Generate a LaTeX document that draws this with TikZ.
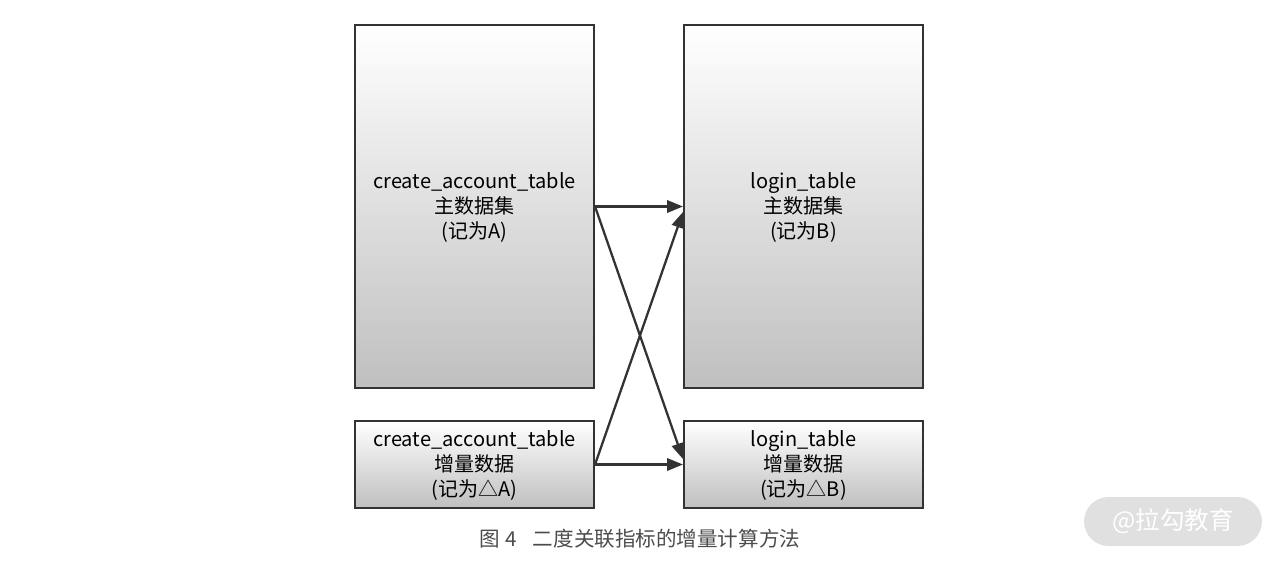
\documentclass[tikz,border=0pt]{standalone}
\usepackage{fontspec}
\newfontfamily\cjk{Noto Sans CJK SC}
\usetikzlibrary{arrows.meta,positioning}

\tikzset{
    tablebox/.style={draw=black!80, line width=1.2pt, top color=white, bottom color=black!25,
        align=center, inner sep=0pt, minimum width=4.78cm,
        font=\cjk\fontsize{11.4}{14.2}\selectfont, text=black},
    link/.style={draw=black!80, line width=1.3pt, -{Triangle[length=9pt,width=7pt]}},
}

\begin{document}
\begin{tikzpicture}[x=0.02cm, y=-0.02cm]
        \useasboundingbox (0, 0) rectangle (1280, 564);

        % main data sets
        \node [tablebox, minimum height=7.26cm] (A) at (474.5, 206.5)
            {\strut create\_account\_table\\主数据集\\(记为A)};
        \node [tablebox, minimum height=7.26cm] (B) at (803.5, 206.5)
            {\strut login\_table\\主数据集\\(记为B)};

        % increments
        \node [tablebox, minimum height=1.74cm] (dA) at (474.5, 464.5)
            {\strut create\_account\_table\\增量数据\\(记为△A)};
        \node [tablebox, minimum height=1.74cm] (dB) at (803.5, 464.5)
            {\strut login\_table\\增量数据\\(记为△B)};

        \draw [link] (A.east) -- (B.west);
        \draw [link] (A.east) -- ([yshift=0.11cm]dB.west);
        \draw [link] (dA.east) -- ([yshift=-0.11cm]B.west);
        \draw [link] (dA.east) -- (dB.west);

        \node [font=\cjk\fontsize{11.7}{13}\selectfont, text=black!70] (caption) at (640, 539)
            {图 4\hspace{0.8em}二度关联指标的增量计算方法};

        \node [fill=black!12, rounded corners=0.49cm, minimum width=3.56cm, minimum height=0.98cm,
            font=\cjk\fontsize{14}{16}\selectfont, text=white] (mark) at (1173, 521.5) {@拉勾教育};
    \end{tikzpicture}
\end{document}
